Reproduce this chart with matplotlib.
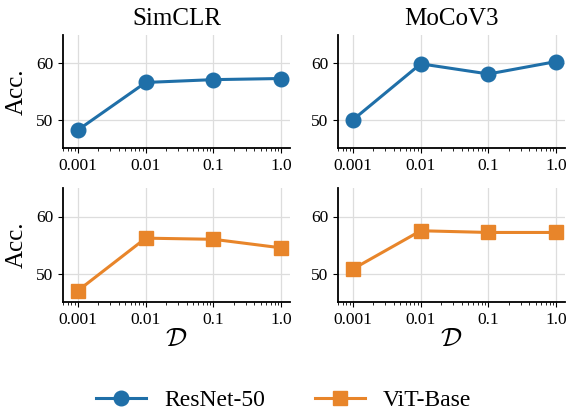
import matplotlib
matplotlib.use("Agg")
import matplotlib.pyplot as plt

plt.rcParams['font.family'] = ['Liberation Serif', 'DejaVu Serif']
plt.rcParams['mathtext.fontset'] = 'cm'

x_vals = [0.001, 0.01, 0.1, 1.0]
x_labels = ['0.001', '0.01', '0.1', '1.0']
methods = ['SimCLR', 'MoCoV3']
resnet = {'SimCLR': [48.2, 56.6, 57.1, 57.3], 'MoCoV3': [50.0, 59.9, 58.1, 60.3]}
vit = {'SimCLR': [47.0, 56.2, 56.0, 54.5], 'MoCoV3': [50.8, 57.5, 57.2, 57.2]}
series_names = ['ResNet-50', 'ViT-Base']
colors = ['#1f6fa8', '#e8852a']

fig = plt.figure(figsize=(5.67, 4.13), dpi=100)
W, H = 567, 413
def ax_at(x0, y0, x1, y1):
    return fig.add_axes([x0 / W, 1 - y1 / H, (x1 - x0) / W, (y1 - y0) / H])

boxes = [[(63, 35, 290, 148), (338, 35, 565, 148)],
         [(63, 188, 290, 302), (338, 188, 565, 302)]]

handles = []
for r, (data, marker, color, name) in enumerate([(resnet, 'o', colors[0], series_names[0]),
                                                  (vit, 's', colors[1], series_names[1])]):
    for c, m in enumerate(methods):
        ax = ax_at(*boxes[r][c])
        h, = ax.plot(x_vals, data[m], marker=marker, color=color, lw=2.2, ms=10.5, label=name)
        if c == 0:
            handles.append(h)
        ax.set_xscale('log')
        ax.set_xlim(0.0006, 1.35)
        ax.set_ylim(45, 65)
        ax.set_yticks([50, 60])
        ax.set_xticks(x_vals)
        ax.set_xticklabels(x_labels)
        ax.tick_params(labelsize=12.5)
        ax.grid(True, color='#dddddd', lw=0.9)
        ax.set_axisbelow(True)
        for s in ['top', 'right']:
            ax.spines[s].set_visible(False)
        for s in ['left', 'bottom']:
            ax.spines[s].set_linewidth(1.3)
        if r == 0:
            ax.set_title(m, fontsize=18, pad=7)
        else:
            ax.set_xlabel(r'$\mathcal{D}$', fontsize=19, labelpad=1)
        if c == 0:
            ax.set_ylabel('Acc.', fontsize=18, labelpad=6)

fig.legend(handles, series_names, loc='center', ncol=2, frameon=False,
           fontsize=17, bbox_to_anchor=(0.5, 1 - 400 / H), columnspacing=2.1,
           handlelength=2.15, handletextpad=0.75)
fig.savefig('out.png', dpi=100)
